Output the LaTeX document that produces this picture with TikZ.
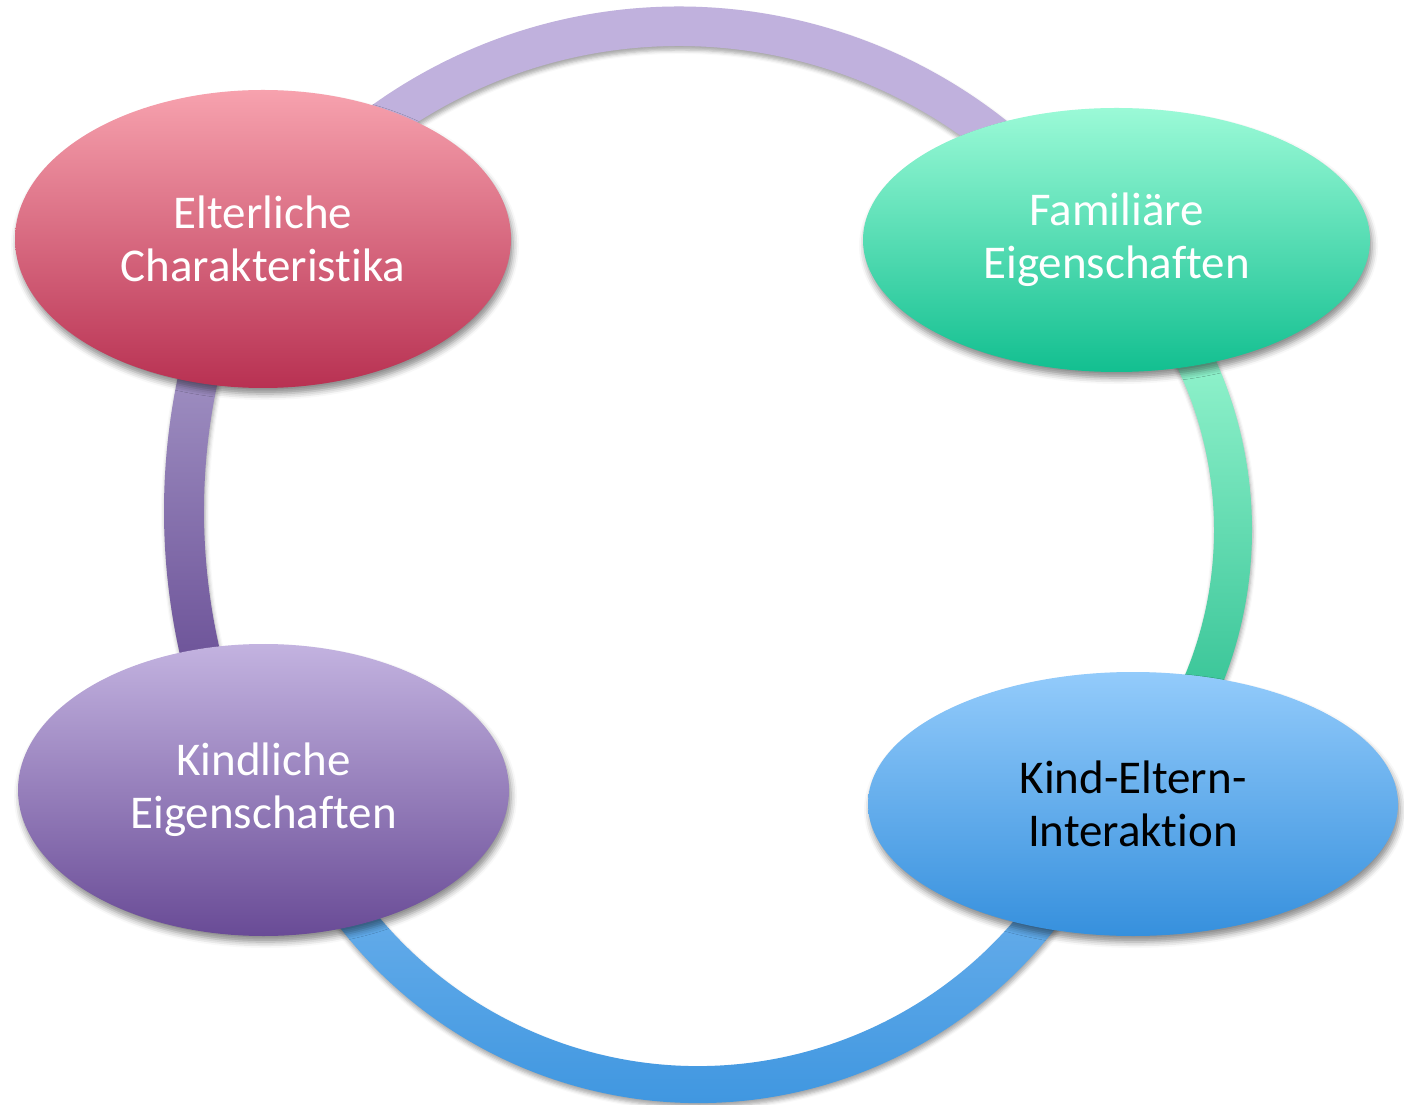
\documentclass[tikz,border=0pt]{standalone}
\usepackage{fontspec}
\setmainfont{Carlito}[Ligatures=NoCommon]
\usetikzlibrary{shapes.geometric,shadows.blur}
\definecolor{ringTop}{RGB}{192,177,221}
\definecolor{ringRightT}{RGB}{153,247,209}
\definecolor{ringRightB}{RGB}{46,191,145}
\definecolor{ringLeftT}{RGB}{173,160,205}
\definecolor{ringLeftB}{RGB}{97,69,143}
\definecolor{ringBotT}{RGB}{116,181,238}
\definecolor{ringBotB}{RGB}{52,144,221}
\definecolor{eOneT}{RGB}{247,162,174}
\definecolor{eOneB}{RGB}{184,49,82}
\definecolor{eTwoT}{RGB}{155,250,215}
\definecolor{eTwoB}{RGB}{18,191,144}
\definecolor{eThreeT}{RGB}{195,179,224}
\definecolor{eThreeB}{RGB}{105,75,150}
\definecolor{eFourT}{RGB}{147,203,251}
\definecolor{eFourB}{RGB}{54,144,221}
% #1,#2 centre; #3 outer radius; #4 inner radius; #5,#6 angles; #7 options
\newcommand\RingArc[7]{\path[#7] ([shift={(#1,#2)}]#5:#3) arc[start angle=#5, end angle=#6, radius=#3] -- ([shift={(#1,#2)}]#6:#4) arc[start angle=#6, end angle=#5, radius=#4] -- cycle;}
\begin{document}
\begin{tikzpicture}[x=1pt,y=1pt,
  bubble/.style={ellipse, inner sep=0pt, align=center, text=white,
    font=\fontsize{47}{53}\selectfont,
    blur shadow={shadow xshift=2pt, shadow yshift=-6pt, shadow blur radius=6pt, shadow opacity=45}},
  ringseg/.style={blur shadow={shadow xshift=1pt, shadow yshift=-4pt, shadow blur radius=4pt, shadow opacity=35}}]
\useasboundingbox (0,0) rectangle (1404,1104);
\RingArc{679}{571}{526.5}{487}{40}{140}{ringseg, fill=ringTop}
\RingArc{819}{593}{655}{615}{160}{200}{ringseg, top color=ringLeftT, bottom color=ringLeftB}
\RingArc{698}{454}{453}{416}{205}{335}{ringseg, top color=ringBotT, bottom color=ringBotB}
\RingArc{837}{574}{415}{377}{-30}{30}{ringseg, top color=ringRightT, bottom color=ringRightB}
\node[bubble, minimum width=496pt, minimum height=298pt, top color=eOneT, bottom color=eOneB]
  (eltern) at (263,865) {Elterliche\\Charakteristika};
\node[bubble, minimum width=507pt, minimum height=264pt, top color=eTwoT, bottom color=eTwoB]
  (familie) at (1116.5,864) {Familiäre\\Eigenschaften};
\node[bubble, minimum width=491pt, minimum height=292pt, top color=eThreeT, bottom color=eThreeB]
  (kind) at (263.5,314) {Kindliche\\Eigenschaften};
\node[bubble, minimum width=530pt, minimum height=264pt, top color=eFourT, bottom color=eFourB, text=black]
  (interaktion) at (1133,300) {Kind-Eltern-\\Interaktion};
\end{tikzpicture}
\end{document}
